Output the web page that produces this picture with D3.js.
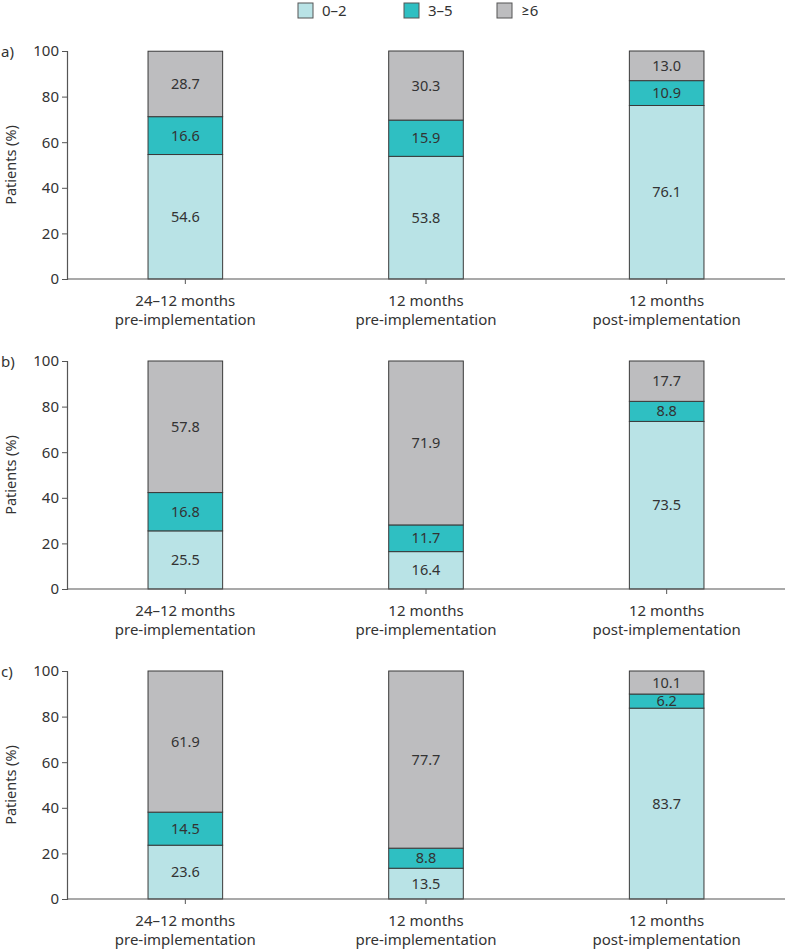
<!DOCTYPE html>
<html><head><meta charset="utf-8">
<script src="https://cdn.jsdelivr.net/npm/d3@7"></script>
<style>body{margin:0;background:#fff}svg text{font-family:"Source Sans Pro","Noto Sans",Lato,sans-serif;fill:#333}</style>
</head><body><svg id="c" width="791" height="951"></svg>
<script>
const categories = ["24–12 months\npre-implementation", "12 months\npre-implementation", "12 months\npost-implementation"];
const seriesNames = ["0–2", "3–5", "≥6"];
const seriesColors = ["#b9e3e6", "#2fbfc2", "#bdbdbf"];
const panelLabels = ["a)", "b)", "c)"];
const panelA = [[54.6, 16.6, 28.7], [53.8, 15.9, 30.3], [76.1, 10.9, 13.0]];
const panelB = [[25.5, 16.8, 57.8], [16.4, 11.7, 71.9], [73.5, 8.8, 17.7]];
const panelC = [[23.6, 14.5, 61.9], [13.5, 8.8, 77.7], [83.7, 6.2, 10.1]];
const yTicks = [0, 20, 40, 60, 80, 100];
const panels = [panelA, panelB, panelC];

const svg = d3.select("#c");
const tops = [51, 361, 671];
const plotH = 228;
const x = d3.scaleBand().domain(categories).range([65, 787]).paddingInner(0.69).paddingOuter(0.345);
// legend
const lx = [298, 404, 497];
seriesNames.forEach((s, i) => {
  svg.append("rect").attr("x", lx[i]).attr("y", 3).attr("width", 15).attr("height", 15)
    .attr("fill", seriesColors[i]).attr("stroke", "#555").attr("stroke-width", 1);
  svg.append("text").attr("x", lx[i] + 24).attr("y", 16).attr("font-size", 15).text(s);
});

panels.forEach((data, p) => {
  const top = tops[p];
  const y = d3.scaleLinear().domain([0, 100]).range([top + plotH, top]);
  const g = svg.append("g");
  // bars
  data.forEach((vals, ci) => {
    let cum = 0;
    vals.forEach((v, si) => {
      const y0 = cum, y1 = Math.min(100, cum + v);
      cum += v;
      g.append("rect").attr("x", x(categories[ci])).attr("width", x.bandwidth())
        .attr("y", y(y1)).attr("height", y(y0) - y(y1))
        .attr("fill", seriesColors[si]).attr("stroke", "#3a3a3a").attr("stroke-width", 1);
      g.append("text").attr("x", x(categories[ci]) + x.bandwidth() / 2)
        .attr("y", (y(y0) + y(y1)) / 2).attr("dy", "0.35em").attr("text-anchor", "middle")
        .attr("font-size", 14.5).text(v.toFixed(1));
    });
  });
  // y axis
  const ya = g.append("g").attr("transform", "translate(67,0)")
    .call(d3.axisLeft(y).tickValues(yTicks).tickSize(5).tickPadding(3));
  ya.select(".domain").attr("stroke", "#555").attr("stroke-width", 1.2);
  ya.selectAll(".tick line").attr("stroke", "#555");
  ya.selectAll("text").attr("font-size", 15).attr("fill", "#333");
  // x axis
  const xa = g.append("g").attr("transform", `translate(0,${top + plotH})`)
    .call(d3.axisBottom(x).tickSize(5).tickSizeOuter(0).tickFormat(""));
  xa.select(".domain").attr("stroke", "#555").attr("stroke-width", 1.2).attr("d", `M67,0H785`);
  xa.selectAll(".tick line").attr("stroke", "#555");
  categories.forEach(c => {
    const lines = c.split("\n");
    const t = g.append("text").attr("text-anchor", "middle").attr("font-size", 15);
    lines.forEach((l, i) => t.append("tspan").attr("x", x(c) + x.bandwidth() / 2)
      .attr("y", top + plotH + 27 + i * 19).text(l));
  });
  // labels
  g.append("text").attr("x", 1).attr("y", top + 6).attr("font-size", 15).text(panelLabels[p]);
  g.append("text").attr("transform", `translate(16,${top + plotH / 2}) rotate(-90)`)
    .attr("text-anchor", "middle").attr("font-size", 14.5).text("Patients (%)");
});
</script></body></html>
